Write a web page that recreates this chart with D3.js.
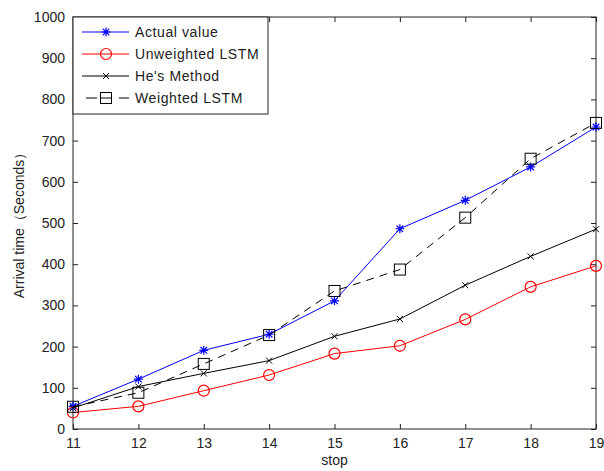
<!DOCTYPE html>
<html>
<head>
<meta charset="utf-8">
<script src="https://cdn.jsdelivr.net/npm/d3@7"></script>
<style>
  body { margin: 0; background: #fff; }
  text { font-family: "Liberation Sans", Arial, sans-serif; fill: #222; }
</style>
</head>
<body>
<div id="chart"></div>
<script>
// stops on the x axis and the four series
var stops = [11, 12, 13, 14, 15, 16, 17, 18, 19];
var actualValue = [55, 121, 191, 230, 311, 486, 555, 636, 733];
var unweightedLSTM = [40, 55, 93, 131, 183, 202, 266, 345, 396];
var hesMethod = [51, 103, 135, 166, 225, 267, 349, 419, 485];
var weightedLSTM = [54, 88, 158, 228, 335, 387, 513, 656, 743];
var yTicks = [0, 100, 200, 300, 400, 500, 600, 700, 800, 900, 1000];

var series = [
  { name: "Actual value", values: actualValue, color: "#0000ff", marker: "star", dash: null },
  { name: "Unweighted LSTM", values: unweightedLSTM, color: "#ff0000", marker: "circle", dash: null },
  { name: "He's Method", values: hesMethod, color: "#000000", marker: "cross", dash: null },
  { name: "Weighted LSTM", values: weightedLSTM, color: "#000000", marker: "square", dash: "8,6" }
];

var svgWidth = 604;
var svgHeight = 471;
var margin = { top: 17, right: 8, bottom: 42, left: 73 };
var chartWidth = svgWidth - margin.left - margin.right;
var chartHeight = svgHeight - margin.top - margin.bottom;

var svg = d3.select("#chart")
  .append("svg")
  .attr("width", svgWidth)
  .attr("height", svgHeight);

var chartGroup = svg.append("g")
  .attr("transform", `translate(${margin.left}, ${margin.top})`);

var xScale = d3.scaleLinear().domain([11, 19]).range([0, chartWidth]);
var yScale = d3.scaleLinear().domain([0, 1000]).range([chartHeight, 0]);

// axes with inward ticks on all four sides
function styleAxis(g) {
  g.select(".domain").remove();
  g.selectAll("line").attr("stroke", "#222");
  g.selectAll("text").attr("font-size", "14px").attr("fill", "#222");
}

chartGroup.append("g")
  .attr("transform", `translate(0, ${chartHeight})`)
  .call(d3.axisBottom(xScale).tickValues(stops).tickFormat(d3.format("d")).tickSizeInner(-5).tickSizeOuter(0).tickPadding(9))
  .call(styleAxis);

chartGroup.append("g")
  .call(d3.axisTop(xScale).tickValues(stops).tickFormat("").tickSizeInner(-5).tickSizeOuter(0))
  .call(styleAxis);

chartGroup.append("g")
  .call(d3.axisLeft(yScale).tickValues(yTicks).tickFormat(d3.format("d")).tickSizeInner(-5).tickSizeOuter(0).tickPadding(8))
  .call(styleAxis);

chartGroup.append("g")
  .attr("transform", `translate(${chartWidth}, 0)`)
  .call(d3.axisRight(yScale).tickValues(yTicks).tickFormat("").tickSizeInner(-5).tickSizeOuter(0))
  .call(styleAxis);

chartGroup.append("rect")
  .attr("width", chartWidth)
  .attr("height", chartHeight)
  .attr("fill", "none")
  .attr("stroke", "#222")
  .attr("stroke-width", 1);

// marker drawing
function drawMarker(g, type, color) {
  if (type === "star") {
    g.append("path").attr("d", "M-4.5,0H4.5M0,-4.5V4.5M-3.3,-3.3L3.3,3.3M-3.3,3.3L3.3,-3.3")
      .attr("stroke", color).attr("stroke-width", 1.2).attr("fill", "none");
  } else if (type === "circle") {
    g.append("circle").attr("r", 5.5).attr("fill", "none").attr("stroke", color).attr("stroke-width", 1.2);
  } else if (type === "cross") {
    g.append("path").attr("d", "M-3,-3L3,3M-3,3L3,-3")
      .attr("stroke", color).attr("stroke-width", 1).attr("fill", "none");
  } else if (type === "square") {
    g.append("rect").attr("x", -5.5).attr("y", -5.5).attr("width", 11).attr("height", 11)
      .attr("fill", "none").attr("stroke", color).attr("stroke-width", 1);
  }
}

var line = d3.line()
  .x((d, i) => xScale(stops[i]))
  .y(d => yScale(d));

series.forEach(function(s) {
  chartGroup.append("path")
    .datum(s.values)
    .attr("d", line)
    .attr("fill", "none")
    .attr("stroke", s.color)
    .attr("stroke-width", 1)
    .attr("stroke-dasharray", s.dash);

  chartGroup.selectAll(null)
    .data(s.values)
    .enter()
    .append("g")
    .attr("transform", (d, i) => `translate(${xScale(stops[i])}, ${yScale(d)})`)
    .each(function() { drawMarker(d3.select(this), s.marker, s.color); });
});

// legend
var legend = chartGroup.append("g");
legend.append("rect")
  .attr("x", 0).attr("y", 0)
  .attr("width", 195).attr("height", 97)
  .attr("fill", "#fff").attr("stroke", "#222");

series.forEach(function(s, i) {
  var ly = 15 + i * 22;
  legend.append("line")
    .attr("x1", s.dash ? 13 : 9).attr("x2", 56).attr("y1", ly).attr("y2", ly)
    .attr("stroke", s.color).attr("stroke-width", 1)
    .attr("stroke-dasharray", s.dash ? "11,4,10,8,10" : null);
  drawMarker(legend.append("g").attr("transform", `translate(33, ${ly})`), s.marker, s.color);
  legend.append("text")
    .attr("x", 62).attr("y", ly).attr("dy", "0.35em")
    .attr("font-size", "14px")
    .attr("letter-spacing", "0.6px")
    .text(s.name);
});

// axis labels
chartGroup.append("text")
  .attr("x", chartWidth / 2)
  .attr("y", chartHeight + 36)
  .attr("text-anchor", "middle")
  .attr("font-size", "14px")
  .text("stop");

svg.append("text")
  .attr("transform", `translate(24, ${margin.top + 205}) rotate(-90)`)
  .attr("text-anchor", "middle")
  .attr("font-size", "14px")
  .text("Arrival time（Seconds）");
</script>
</body>
</html>
